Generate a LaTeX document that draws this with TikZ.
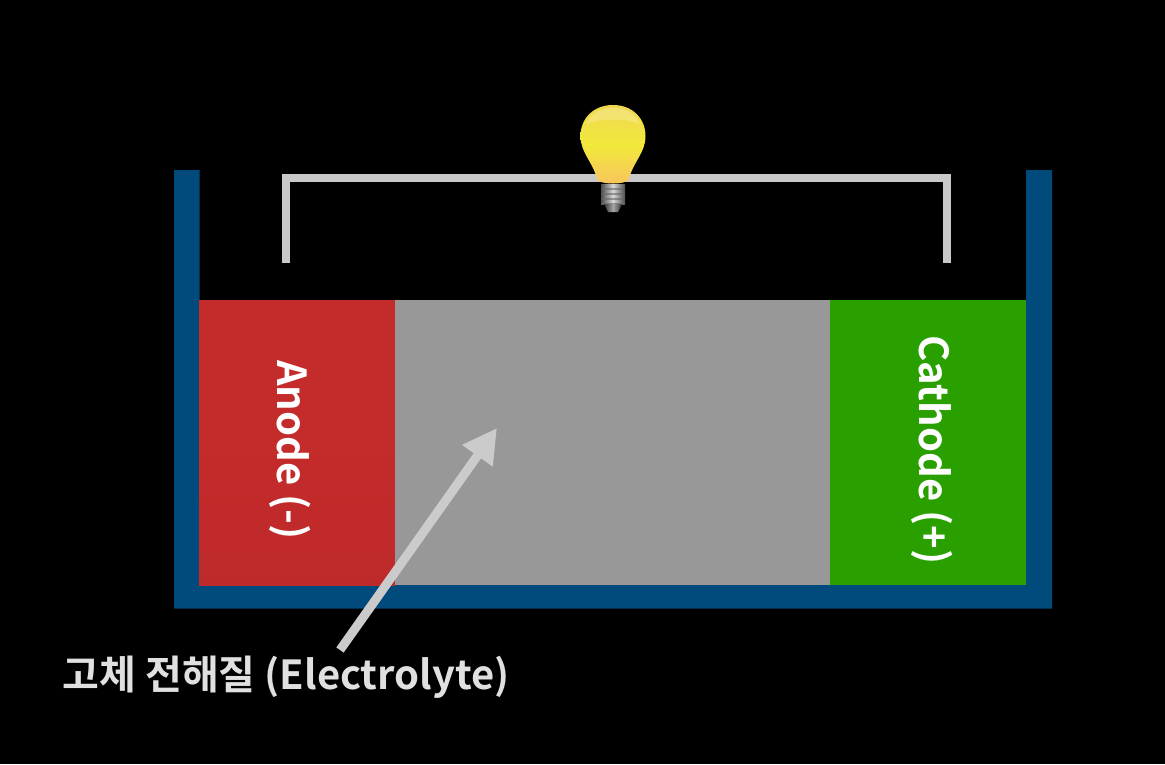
\documentclass[tikz,border=0pt]{standalone}
\usepackage{fontspec}
\setmainfont{Noto Sans CJK KR}[BoldFont={Noto Sans CJK KR Bold}]
\usetikzlibrary{arrows.meta}
\definecolor{tankblue}{HTML}{004A7C}
\definecolor{wiregray}{HTML}{C8C8C8}
\definecolor{anodered}{HTML}{C42B2B}
\definecolor{electrolytegray}{HTML}{989898}
\definecolor{cathodegreen}{HTML}{29A000}
\definecolor{bulbtop}{HTML}{EFD850}
\definecolor{bulbmid}{HTML}{F2E93C}
\definecolor{bulbbot}{HTML}{F7C45E}
\tikzset{
  blockbox/.style={draw=none,inner sep=0pt,anchor=north west},
  cap label/.style={text=white,font=\bfseries\fontsize{40}{44}\selectfont,rotate=-90},
  wire/.style={draw=wiregray,line width=8pt,line join=miter},
  pointer/.style={draw=wiregray!95!white,line width=9pt,-{Triangle[length=34pt,width=35pt]}},
  callout/.style={text=white!88!black,font=\bfseries\fontsize{40}{44}\selectfont}
}
\begin{document}
\begin{tikzpicture}[x=1pt,y=-1pt]
\useasboundingbox[fill=black] (0,0) rectangle (1165,764);
% tank
\fill[tankblue] (174,170) -- (199.5,170) -- (199.5,585) -- (1026,585) -- (1026,170) -- (1052,170) -- (1052,608.5) -- (174,608.5) -- cycle;
% blocks
\node[blockbox,minimum width=196pt,minimum height=285pt,top color=anodered,bottom color=anodered!97!black,middle color=anodered] (anode) at (199,300) {};
\node[blockbox,minimum width=435pt,minimum height=285pt,fill=electrolytegray] (electrolyte) at (395,300) {};
\node[blockbox,minimum width=196pt,minimum height=285pt,fill=cathodegreen] (cathode) at (830,300) {};
\node[cap label] (anodelabel) at (290,450) {Anode (-)};
\node[cap label] (cathodelabel) at (932,450) {Cathode (+)};
% wire
\coordinate (wa) at (285.5,263);
\coordinate (wb) at (285.5,177.5);
\coordinate (wc) at (946.5,177.5);
\coordinate (wd) at (946.5,263);
\draw[wire] (wa) -- (wb) -- (wc) -- (wd);
% bulb base
\shade[left color=black!70,right color=black!70,middle color=white!85!black] (601,184) rectangle (625,204);
\foreach \yy in {188,193,198,203}{\fill[black!60,opacity=.6] (601,\yy) rectangle (625,\yy+1.5);}
\shade[left color=black!80,right color=black!80,middle color=black!35] (604,204) -- (622,204) -- (618,212) -- (608,212) -- cycle;
% bulb glass
\shade[top color=bulbtop,bottom color=bulbbot,middle color=bulbmid]
  (613,105) .. controls (633,105) and (645.5,119) .. (645.5,136)
  .. controls (645.5,153) and (633,162) .. (629,179)
  .. controls (628,185) and (598,185) .. (597,179)
  .. controls (593,162) and (580.5,153) .. (580.5,136)
  .. controls (580.5,119) and (593,105) .. (613,105) -- cycle;
\shade[top color=white,bottom color=white,opacity=.22] (613,108) .. controls (628,108) and (638,116) .. (639,124) .. controls (628,118) and (598,118) .. (587,124) .. controls (588,116) and (598,108) .. (613,108) -- cycle;
% callout
\node[callout,anchor=west] (calloutlabel) at (59,677) {고체 전해질 (Electrolyte)};
\coordinate (ptail) at (340,650);
\coordinate (ptip) at (497,428);
\draw[pointer] (ptail) -- (ptip);
\end{tikzpicture}
\end{document}
